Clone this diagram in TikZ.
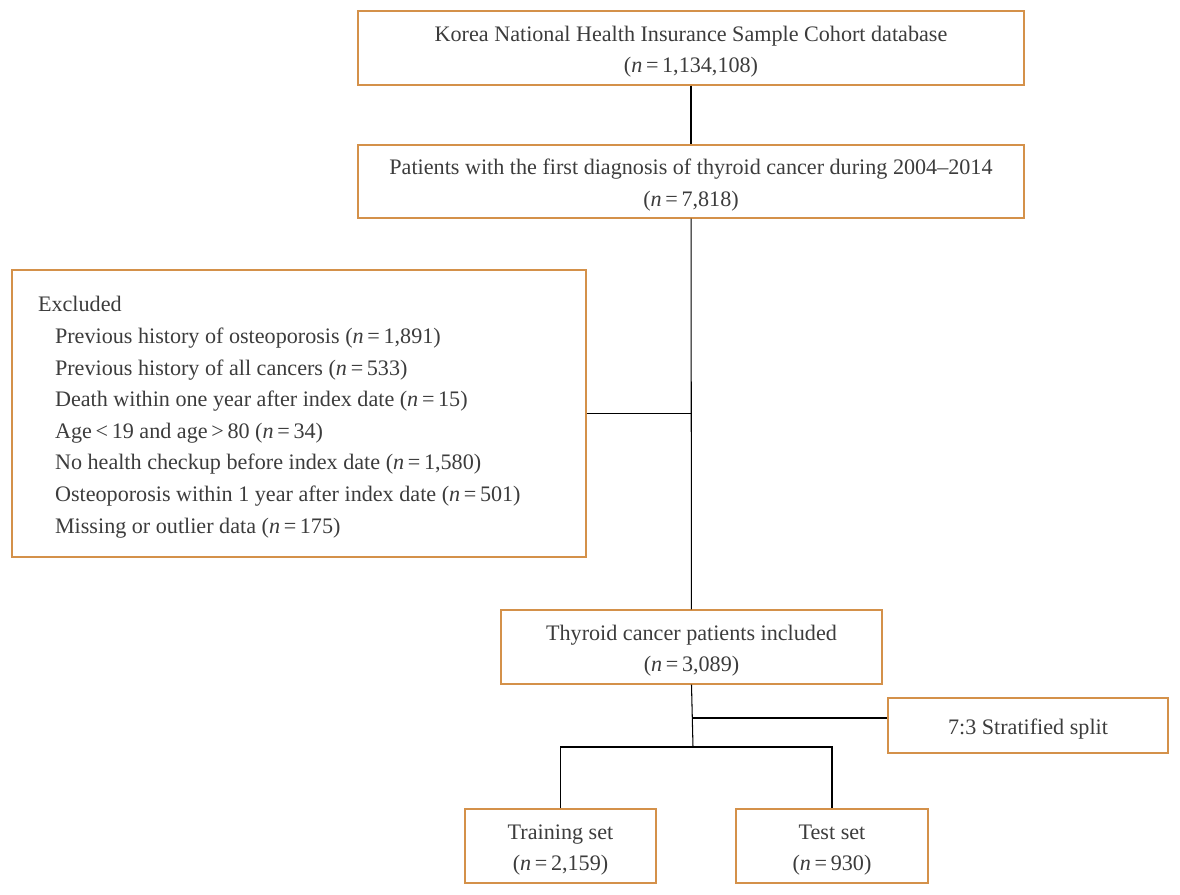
\documentclass[tikz,border=0pt]{standalone}
\usepackage{fontspec}
\setmainfont{Liberation Serif}
\usetikzlibrary{positioning}
\definecolor{boxorange}{HTML}{D4914A}
\definecolor{inkgray}{HTML}{3C3C3C}
\newcommand{\nval}[1]{(\textit{n}\,=\,#1)}
\newcommand{\topgap}{\rule{0pt}{13pt}}

\begin{document}
\begin{tikzpicture}[x=0.02cm,y=-0.02cm,
  every node/.style={text=inkgray,font=\fontsize{12.6}{18}\selectfont},
  flowbox/.style={draw=boxorange,line width=0.8pt,align=center,inner sep=0pt},
  link/.style={draw=black,line width=0.6pt}]
\useasboundingbox (0,0) rectangle (1180,894);
% boxes
\node[flowbox,minimum width=13.32cm,minimum height=1.48cm] (cohort) at (691,48)
  {\topgap Korea National Health Insurance Sample Cohort database\\ \nval{1,134,108}};
\node[flowbox,minimum width=13.32cm,minimum height=1.46cm] (thyroid) at (691,181.5)
  {\topgap Patients with the first diagnosis of thyroid cancer during 2004--2014\\ \nval{7,818}};
\node[flowbox,minimum width=11.48cm,minimum height=5.74cm,align=flush left,text width=10.44cm,inner xsep=0.52cm] (excluded) at (299,413.5)
  {\topgap Excluded\\
   \hspace*{0.34cm}Previous history of osteoporosis \nval{1,891}\\
   \hspace*{0.34cm}Previous history of all cancers \nval{533}\\
   \hspace*{0.34cm}Death within one year after index date \nval{15}\\
   \hspace*{0.34cm}Age\,<\,19 and age\,>\,80 \nval{34}\\
   \hspace*{0.34cm}No health checkup before index date \nval{1,580}\\
   \hspace*{0.34cm}Osteoporosis within 1 year after index date \nval{501}\\
   \hspace*{0.34cm}Missing or outlier data \nval{175}};
\node[flowbox,minimum width=7.62cm,minimum height=1.48cm] (included) at (691.5,647)
  {\topgap Thyroid cancer patients included\\ \nval{3,089}};
\node[flowbox,minimum width=5.6cm,minimum height=1.1cm] (split) at (1028,725.5)
  {\topgap 7:3 Stratified split};
\node[flowbox,minimum width=3.82cm,minimum height=1.48cm] (training) at (560.5,846)
  {\topgap Training set\\ \nval{2,159}};
\node[flowbox,minimum width=3.84cm,minimum height=1.48cm] (test) at (832,846)
  {\topgap Test set\\ \nval{930}};
% connectors
\coordinate (splitjoin) at (693,718);
\coordinate (fork) at (693,747);
\draw[link] (cohort) -- (thyroid);
\draw[link] (thyroid) -- (included);
\draw[link] (excluded.east) -- (excluded.east -| thyroid.south);
\draw[link] (included.south) -- (fork);
\draw[link] (splitjoin) -- (split.west |- splitjoin);
\draw[link] (training.north) |- (fork) -| (test.north);
\end{tikzpicture}
\end{document}
